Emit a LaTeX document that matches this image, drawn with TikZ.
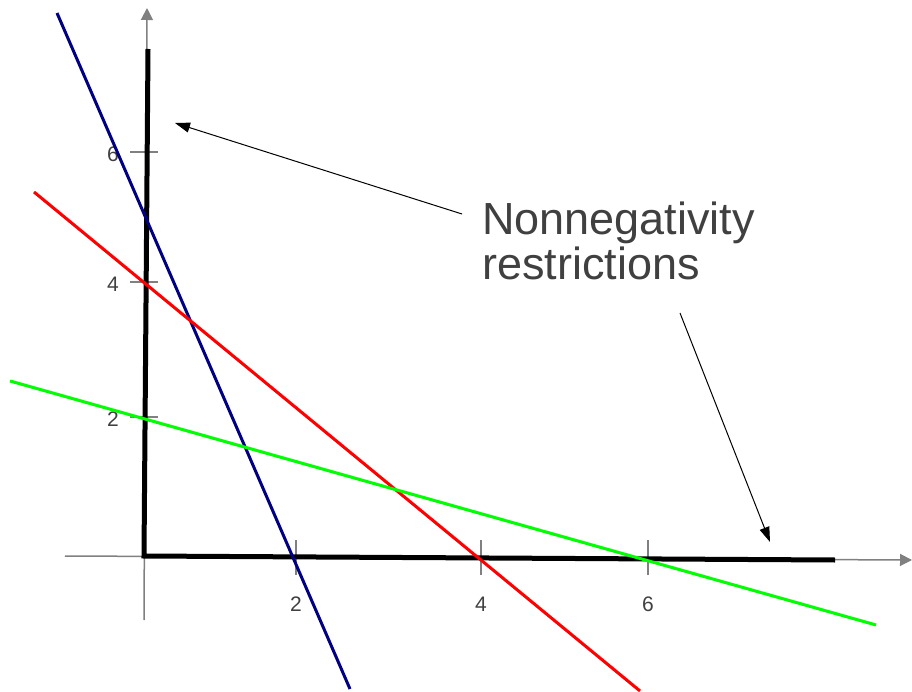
\documentclass[tikz,border=0pt]{standalone}
\usepackage{fontspec}
\setmainfont{Liberation Sans}
\usetikzlibrary{arrows.meta}
\definecolor{axisgray}{RGB}{128,128,128}
\definecolor{labelgray}{RGB}{64,64,64}
\definecolor{navyline}{RGB}{0,0,128}
\definecolor{redline}{RGB}{255,0,0}
\definecolor{greenline}{RGB}{0,255,0}
\tikzset{
  axisline/.style={draw=axisgray, line width=1.5pt, -{Triangle[length=12pt,width=12pt]}},
  tickline/.style={draw=axisgray, line width=1.5pt},
  ticklabel/.style={text=labelgray, font=\fontsize{21}{21}\selectfont, inner sep=0pt},
  bound/.style={draw=black, line width=5pt, line join=miter},
  constraint/.style={line width=3pt},
  pointer/.style={draw=black, line width=1pt, -{Triangle[length=15pt,width=10pt]}},
  caption/.style={text=labelgray, font=\fontsize{45}{45}\selectfont, align=left, inner sep=0pt, anchor=north west}
}
\begin{document}
\begin{tikzpicture}[x=1pt,y=-1pt]
\useasboundingbox (0,0) rectangle (912,692);
% axes
\coordinate (xstart) at (65,556);
\coordinate (xend) at (912,560);
\coordinate (ystart) at (144,620);
\coordinate (yend) at (147,8);
\draw[axisline] (xstart) -- (xend);
\draw[axisline] (ystart) -- (yend);
% ticks
\foreach \x/\l in {296/2,481/4,648/6}{
  \draw[tickline] (\x,540) -- (\x,575);
  \node[ticklabel] (xl\l) at (\x,604) {\l};
}
\foreach \y/\l in {417/2,282/4,152/6}{
  \draw[tickline] (130,\y) -- (158,\y);
  \node[ticklabel] (yl\l) at (113,\y+2) {\l};
}
% nonnegativity bounds
\coordinate (btop) at (148,49);
\coordinate (borig) at (144,556);
\coordinate (bright) at (835,560);
\draw[bound] (btop) -- (borig) -- (bright);
% constraint lines
\coordinate (b1) at (57,13);
\coordinate (b2) at (350,689);
\coordinate (r1) at (34,192);
\coordinate (r2) at (640,691);
\coordinate (g1) at (10,381);
\coordinate (g2) at (876,625);
\draw[constraint, draw=navyline] (b1) -- (b2);
\draw[constraint, draw=redline] (r1) -- (r2);
\draw[constraint, draw=greenline] (g1) -- (g2);
% caption and pointers
\node[caption] (cap) at (482,202) {Nonnegativity\\restrictions};
\coordinate (t1) at (462,214);
\coordinate (h1) at (175,123);
\coordinate (t2) at (680,313);
\coordinate (h2) at (770,542);
\draw[pointer] (t1) -- (h1);
\draw[pointer] (t2) -- (h2);
\end{tikzpicture}
\end{document}
